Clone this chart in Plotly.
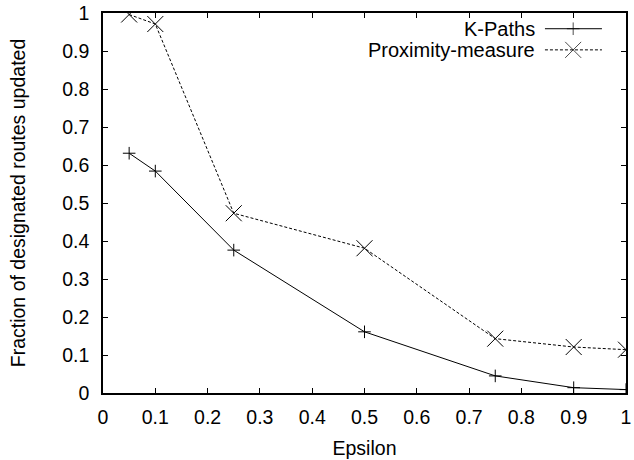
import plotly.graph_objects as go

epsilon = [0.05, 0.1, 0.25, 0.5, 0.75, 0.9, 1.0]
k_paths = [0.631, 0.584, 0.376, 0.161, 0.045, 0.014, 0.009]
proximity = [0.996, 0.971, 0.473, 0.381, 0.143, 0.121, 0.114]
series_names = ["K-Paths", "Proximity-measure"]
x_title = "Epsilon"
y_title = "Fraction of designated routes updated"

FONT = "Liberation Sans, Arial, Helvetica, sans-serif"
FS = 19.5
L, R, T, B = 103, 8, 13, 67
W, H = 634, 460

fig = go.Figure()
fig.add_trace(go.Scatter(x=epsilon, y=k_paths, mode="lines+markers", name=series_names[0],
                         line=dict(color="black", width=1),
                         marker=dict(symbol="cross-thin-open", size=9,
                                     line=dict(color="black", width=1)),
                         showlegend=False))
fig.add_trace(go.Scatter(x=epsilon, y=proximity, mode="lines+markers", name=series_names[1],
                         line=dict(color="black", width=1, dash="3px,2px"),
                         marker=dict(symbol="x-thin-open", size=16,
                                     line=dict(color="black", width=1)),
                         showlegend=False))

# custom gnuplot-style legend (text left, sample right) on an overlay axis
leg_rows = [0.9586, 0.903]
leg_x = [0.845, 0.899, 0.954]
styles = [("solid", "cross-thin-open", 9), ("3px,2px", "x-thin-open", 16)]
for name, yy, (dash, sym, sz) in zip(series_names, leg_rows, styles):
    fig.add_trace(go.Scatter(x=leg_x, y=[yy] * 3, xaxis="x2", yaxis="y2",
                             mode="lines+markers", showlegend=False, hoverinfo="skip",
                             line=dict(color="black", width=1, dash=dash),
                             marker=dict(symbol=sym, size=[0, sz, 0],
                                         line=dict(color="black", width=1))))
    fig.add_annotation(x=0.830, y=yy, xref="x2", yref="y2", text=name,
                       showarrow=False, xanchor="right", yanchor="middle",
                       font=dict(family=FONT, size=20, color="black"))

axis_common = dict(showgrid=False, zeroline=False, showline=True, linecolor="black",
                   linewidth=1.5, mirror="ticks", ticks="inside", ticklen=5,
                   tickcolor="black", tickwidth=1, automargin=False,
                   tickfont=dict(family=FONT, size=FS, color="black"))

fig.update_layout(
    width=W, height=H,
    margin=dict(l=L, r=R, t=T, b=B, autoexpand=False),
    paper_bgcolor="white", plot_bgcolor="white",
    xaxis=dict(range=[0, 1], dtick=0.1, tick0=0, ticklabelstandoff=6,
               title=dict(text=x_title, standoff=14,
                          font=dict(family=FONT, size=FS, color="black")),
               **axis_common),
    yaxis=dict(range=[0, 1], dtick=0.1, tick0=0, ticklabelstandoff=8,
               title=dict(text=y_title, standoff=31,
                          font=dict(family=FONT, size=FS, color="black")),
               **axis_common),
    xaxis2=dict(range=[0, 1], overlaying="x", visible=False),
    yaxis2=dict(range=[0, 1], overlaying="y", visible=False),
    showlegend=False,
)

fig.write_html("out.html")
